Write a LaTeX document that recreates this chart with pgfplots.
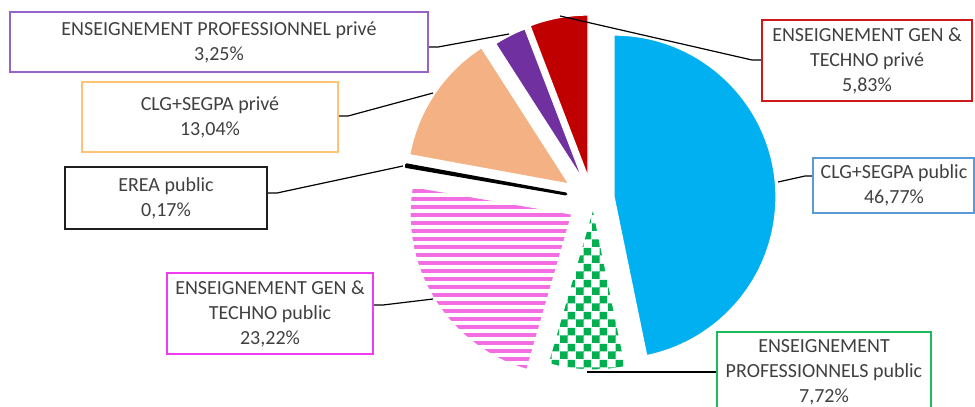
\documentclass[border=0pt]{standalone}
\usepackage{pgfplots}
\pgfplotsset{compat=1.18}
\usepackage{pgfplotstable}
\usepackage{fontspec}
\setmainfont{Carlito}
\usetikzlibrary{patterns,patterns.meta}

\definecolor{cblue}{RGB}{0,176,240}
\definecolor{cgreen}{RGB}{0,176,80}
\definecolor{cpink}{RGB}{242,110,225}
\definecolor{cpeach}{RGB}{244,177,131}
\definecolor{cpurple}{RGB}{112,48,160}
\definecolor{cred}{RGB}{192,0,0}
\definecolor{textgray}{RGB}{64,64,64}
\definecolor{bpurple}{RGB}{150,100,200}
\definecolor{borange}{RGB}{255,195,115}
\definecolor{bblack}{RGB}{30,30,30}
\definecolor{bmagenta}{RGB}{240,60,240}
\definecolor{bred}{RGB}{205,25,25}
\definecolor{bblue}{RGB}{91,155,213}
\definecolor{bgreen}{RGB}{30,185,90}

% large checkerboard, 8 px cells
\pgfdeclarepatternformonly{bigchecker}{\pgfpointorigin}{\pgfqpoint{12pt}{12pt}}{\pgfqpoint{12pt}{12pt}}{%
  \pgfpathrectangle{\pgfpointorigin}{\pgfqpoint{6pt}{6pt}}%
  \pgfpathrectangle{\pgfqpoint{6pt}{6pt}}{\pgfqpoint{6pt}{6pt}}%
  \pgfusepath{fill}}

% share (%), apex of the exploded slice (px, y downwards)
\pgfplotstableread{
val   ax  ay
46.77 614 197
7.72  593 208
23.22 572 214
0.17  566 194
13.04 569 184
3.25  583 180
5.83  588 177
}\slices

\tikzset{
  slice0/.style={fill=cblue,draw=white,line width=1pt},
  slice1/.style={pattern=bigchecker,pattern color=cgreen,draw=white,line width=1pt},
  slice2/.style={pattern={Lines[angle=0,distance=6pt,line width=3pt]},pattern color=cpink,draw=white,line width=1pt},
  slice3/.style={fill=black,draw=black,line width=2.2pt,line join=round},
  slice4/.style={fill=cpeach,draw=white,line width=1pt},
  slice5/.style={fill=cpurple,draw=white,line width=1pt},
  slice6/.style={fill=cred,draw=white,line width=1pt},
  lbl/.style={font=\fontsize{15}{18.75}\selectfont,text=textgray,align=center,inner sep=0pt},
  lead/.style={black,line width=0.9pt},
  box/.style={line width=1.2pt}
}

\begin{document}
\begin{tikzpicture}
\begin{axis}[
  scale only axis,
  width=731.25pt, height=305.25pt,
  xmin=0, xmax=975, ymin=0, ymax=407,
  y dir=reverse,
  hide axis,
  clip=false
]
\coordinate (ll) at (axis cs:0,407);
\coordinate (ur) at (axis cs:975,0);

\gdef\cumangle{90}
\pgfplotsinvokeforeach{0,...,6}{%
  \pgfplotstablegetelem{#1}{val}\of\slices \let\v\pgfplotsretval
  \pgfplotstablegetelem{#1}{ax}\of\slices \let\px\pgfplotsretval
  \pgfplotstablegetelem{#1}{ay}\of\slices \let\py\pgfplotsretval
  \pgfmathsetmacro\sa{\cumangle}%
  \pgfmathsetmacro\ea{\cumangle-3.6*\v}%
  \xdef\cumangle{\ea}%
  \edef\temp{\noexpand\path[slice#1] (axis cs:\px,\py) -- ++(\sa:121.5pt)
    arc[start angle=\sa, end angle=\ea, radius=121.5pt] -- cycle;}%
  \temp
}

% leader lines
\draw[lead] (axis cs:428,47) -- (axis cs:438,47) -- (axis cs:509,34);
\draw[lead] (axis cs:338,116) -- (axis cs:348,116) -- (axis cs:433,93);
\draw[lead] (axis cs:267,193) -- (axis cs:277,193) -- (axis cs:403,166);
\draw[lead] (axis cs:373,305) -- (axis cs:383,305) -- (axis cs:433,299);
\draw[lead] (axis cs:560,16) -- (axis cs:752,60) -- (axis cs:762,60);
\draw[lead] (axis cs:778,182) -- (axis cs:805,176) -- (axis cs:813,176);
\draw[lead] (axis cs:587,372) -- (axis cs:717,372);

% label boxes
\draw[box,bpurple] (axis cs:10,12) rectangle (axis cs:428,72);
\node[lbl] at (axis cs:219,42) {ENSEIGNEMENT PROFESSIONNEL privé\\3,25\%};

\draw[box,borange] (axis cs:82,82) rectangle (axis cs:338,152);
\node[lbl] at (axis cs:210,117) {CLG+SEGPA privé\\13,04\%};

\draw[box,bblack] (axis cs:65,167) rectangle (axis cs:267,229);
\node[lbl] at (axis cs:166,198) {EREA public\\0,17\%};

\draw[box,bmagenta] (axis cs:167,273) rectangle (axis cs:373,354);
\node[lbl] at (axis cs:270,313.5) {ENSEIGNEMENT GEN \&\\TECHNO public\\23,22\%};

\draw[box,bred] (axis cs:762,20) rectangle (axis cs:972,101);
\node[lbl] at (axis cs:867,60.5) {ENSEIGNEMENT GEN \&\\TECHNO privé\\5,83\%};

\draw[box,bblue] (axis cs:813,158) rectangle (axis cs:974,213);
\node[lbl] at (axis cs:894,185.5) {CLG+SEGPA public\\46,77\%};

\draw[box,bgreen] (axis cs:717,410) -- (axis cs:717,332) -- (axis cs:931,332) -- (axis cs:931,410);
\node[lbl] at (axis cs:824,372) {ENSEIGNEMENT\\PROFESSIONNELS public\\7,72\%};
\end{axis}
\pgfresetboundingbox
\useasboundingbox (ll) rectangle (ur);
\end{tikzpicture}
\end{document}
